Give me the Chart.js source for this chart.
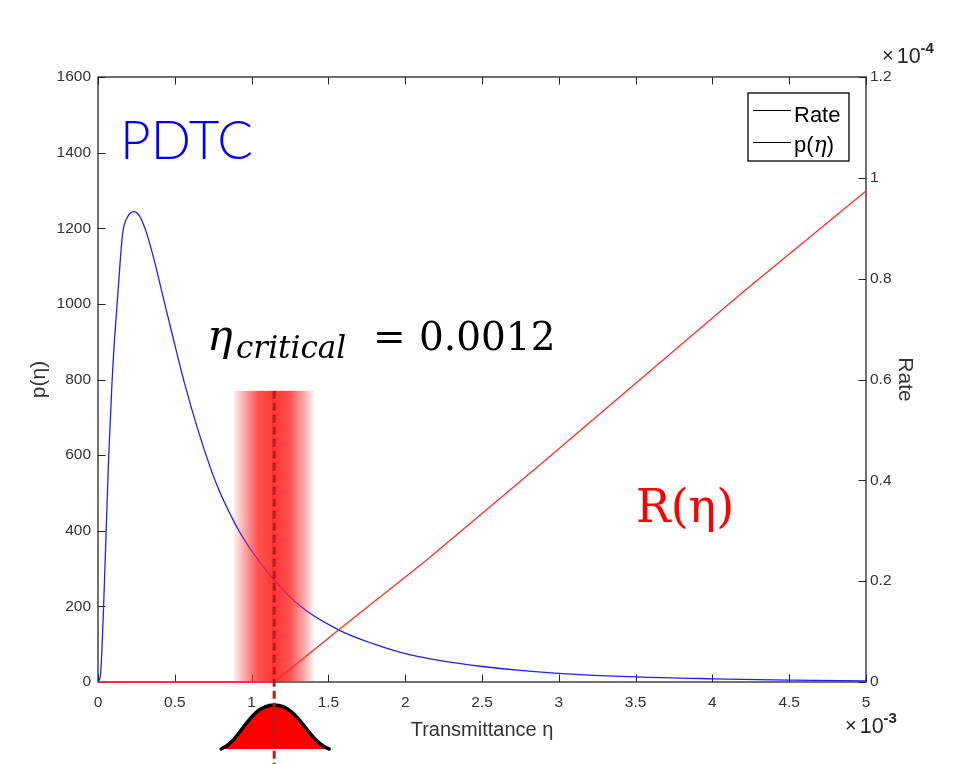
<!DOCTYPE html>
<html>
<head>
<meta charset="utf-8">
<script src="https://cdn.jsdelivr.net/npm/chart.js@4.4.0/dist/chart.umd.min.js"></script>
<style>
html,body{margin:0;padding:0;background:#ffffff;}
#wrap{width:975px;height:764px;position:relative;}
</style>
</head>
<body>
<div id="wrap"><canvas id="c" width="975" height="764"></canvas></div>
<script>
// ---- data ----
const etaP = [0, 0.015e-3, 0.025e-3, 0.036e-3, 0.045e-3, 0.054e-3, 0.069e-3, 0.091e-3, 0.11e-3, 0.13e-3,
  0.16e-3, 0.19e-3, 0.232e-3, 0.27e-3, 0.31e-3, 0.36e-3, 0.42e-3, 0.48e-3, 0.56e-3, 0.66e-3,
  0.77e-3, 0.9e-3, 1.0e-3, 1.143e-3, 1.316e-3, 1.566e-3, 1.8e-3, 2.0e-3, 2.25e-3, 2.5e-3,
  2.75e-3, 3.0e-3, 3.5e-3, 4.0e-3, 4.5e-3, 5.0e-3];
const pVals = [0, 15, 80, 195, 300, 410, 590, 790, 920, 1030,
  1185, 1228, 1244, 1233, 1195, 1125, 1025, 925, 795, 655,
  525, 413, 347, 272, 201, 138, 100, 75, 55, 41,
  31, 23, 13.5, 8.5, 5, 3];
const etaR = [0, 1.147e-3, 1.566e-3, 2.14e-3, 2.878e-3, 4.178e-3, 5.0e-3];
const rateVals = [0, 0, 0.103e-4, 0.242e-4, 0.431e-4, 0.768e-4, 0.974e-4];

const xTickValues = [0, 0.5e-3, 1e-3, 1.5e-3, 2e-3, 2.5e-3, 3e-3, 3.5e-3, 4e-3, 4.5e-3, 5e-3];
const xTickLabels = ['0', '0.5', '1', '1.5', '2', '2.5', '3', '3.5', '4', '4.5', '5'];
const yTickValues = [0, 200, 400, 600, 800, 1000, 1200, 1400, 1600];
const yTickLabels = ['0', '200', '400', '600', '800', '1000', '1200', '1400', '1600'];
const y1TickValues = [0, 0.2e-4, 0.4e-4, 0.6e-4, 0.8e-4, 1.0e-4, 1.2e-4];
const y1TickLabels = ['0', '0.2', '0.4', '0.6', '0.8', '1', '1.2'];

const etaCritical = 1.147e-3;
const bandLo = 0.88e-3, bandHi = 1.414e-3, bandTopP = 770;

const AX = '#262626';
const TICK = '#333333';
const SANS = "'Liberation Sans', Arial, Helvetica, sans-serif";
const SERIF = "'DejaVu Serif', 'Liberation Serif', serif";

function setTicks(values) {
  return function (scale) { scale.ticks = values.map(v => ({ value: v })); };
}

const framePlugin = {
  id: 'frame',
  beforeDatasetsDraw(chart) {
    const { ctx, chartArea: a, scales } = chart;
    ctx.save();
    ctx.strokeStyle = AX;
    ctx.lineWidth = 1;
    ctx.beginPath();
    const tl = 7.5;
    scales.x.ticks.forEach(t => {
      const px = Math.round(scales.x.getPixelForValue(t.value)) + 0.5;
      ctx.moveTo(px, a.bottom); ctx.lineTo(px, a.bottom - tl);
      ctx.moveTo(px, a.top); ctx.lineTo(px, a.top + tl);
    });
    scales.y.ticks.forEach(t => {
      const py = Math.round(scales.y.getPixelForValue(t.value)) + 0.5;
      ctx.moveTo(a.left, py); ctx.lineTo(a.left + tl, py);
    });
    scales.y1.ticks.forEach(t => {
      const py = Math.round(scales.y1.getPixelForValue(t.value)) + 0.5;
      ctx.moveTo(a.right, py); ctx.lineTo(a.right - tl, py);
    });
    ctx.stroke();
    ctx.lineWidth = 1.3;
    ctx.strokeRect(a.left, a.top, a.right - a.left, a.bottom - a.top);
    ctx.restore();
  }
};

const annotPlugin = {
  id: 'annot',
  afterDatasetsDraw(chart) {
    const { ctx, chartArea: a, scales } = chart;
    const xs = scales.x, ys = scales.y;
    ctx.save();
    // shaded band
    const x0 = xs.getPixelForValue(bandLo), x1 = xs.getPixelForValue(bandHi);
    const yT = ys.getPixelForValue(bandTopP);
    const g = ctx.createLinearGradient(x0, 0, x1, 0);
    g.addColorStop(0, 'rgba(255,60,60,0.06)');
    g.addColorStop(0.12, 'rgba(255,50,50,0.38)');
    g.addColorStop(0.3, 'rgba(255,40,40,0.8)');
    g.addColorStop(0.5, 'rgba(255,25,25,0.88)');
    g.addColorStop(0.7, 'rgba(255,40,40,0.8)');
    g.addColorStop(0.88, 'rgba(255,50,50,0.38)');
    g.addColorStop(1, 'rgba(255,60,60,0.0)');
    ctx.fillStyle = g;
    ctx.fillRect(x0, yT, x1 - x0, a.bottom - yT);

    // gaussian bump below the axis
    const cx = xs.getPixelForValue(etaCritical);
    const base = a.bottom + 67, top = a.bottom + 23;
    const path = new Path2D();
    path.moveTo(cx - 53, base);
    path.bezierCurveTo(cx - 33, base - 8, cx - 25, top, cx, top);
    path.bezierCurveTo(cx + 25, top, cx + 33, base - 8, cx + 55, base);
    const fillP = new Path2D(path);
    fillP.closePath();
    ctx.fillStyle = '#ff0000';
    ctx.fill(fillP);
    ctx.strokeStyle = '#000000';
    ctx.lineWidth = 3.5;
    ctx.lineCap = 'round';
    ctx.stroke(path);

    // dashed critical line
    ctx.beginPath();
    ctx.setLineDash([8, 4]);
    ctx.strokeStyle = '#b51c1c';
    ctx.lineWidth = 3;
    ctx.lineCap = 'butt';
    ctx.moveTo(cx, yT);
    ctx.lineTo(cx, 764);
    ctx.stroke();
    ctx.setLineDash([]);

    // texts
    ctx.textBaseline = 'alphabetic';
    ctx.textAlign = 'left';
    ctx.fillStyle = '#0000ff';
    ctx.font = "300 53px Lato, 'Open Sans', sans-serif";
    ctx.fillText('PDTC', a.left + 22, a.top + 82);

    ctx.fillStyle = '#000000';
    ctx.font = "italic 43px " + SERIF;
    ctx.fillText('η', 207, 350);
    ctx.font = "italic 31px " + SERIF;
    ctx.fillText('critical', 236, 358);
    ctx.font = "39px " + SERIF;
    ctx.fillText('=', 373, 350);
    ctx.fillText('0.0012', 419, 350);

    ctx.fillStyle = '#ff0000';
    ctx.font = "46px " + SERIF;
    ctx.fillText('R(η)', 636, 522);

    // legend
    const lx1 = a.right - 17, lx0 = lx1 - 101, ly0 = a.top + 16, ly1 = ly0 + 68;
    ctx.fillStyle = '#ffffff';
    ctx.fillRect(lx0, ly0, lx1 - lx0, ly1 - ly0);
    ctx.strokeStyle = '#000000';
    ctx.lineWidth = 1.3;
    ctx.strokeRect(lx0, ly0, lx1 - lx0, ly1 - ly0);
    ctx.lineWidth = 1;
    ctx.beginPath();
    const s1 = Math.round(ly0 + 17) + 0.5, s2 = Math.round(ly0 + 49) + 0.5;
    ctx.moveTo(lx0 + 5, s1); ctx.lineTo(lx0 + 43, s1);
    ctx.moveTo(lx0 + 5, s2); ctx.lineTo(lx0 + 43, s2);
    ctx.stroke();
    ctx.fillStyle = '#000000';
    ctx.font = "22px " + SANS;
    ctx.fillText('Rate', lx0 + 46, ly0 + 28.5);
    ctx.fillText('p(', lx0 + 46, ly0 + 59);
    let w = ctx.measureText('p(').width;
    ctx.font = "italic 22px " + SERIF;
    ctx.fillText('η', lx0 + 46 + w, ly0 + 59);
    let w2 = ctx.measureText('η').width;
    ctx.font = "22px " + SANS;
    ctx.fillText(')', lx0 + 46 + w + w2, ly0 + 59);

    // exponents
    ctx.fillStyle = AX;
    function expo(x, y, exp) {
      ctx.font = "20px " + SANS;
      ctx.fillText('×', x, y - 1);
      const wx = ctx.measureText('×').width;
      ctx.font = "21.5px " + SANS;
      ctx.fillText('10', x + wx + 3, y);
      const w10 = ctx.measureText('10').width;
      ctx.font = "bold 15px " + SANS;
      ctx.fillText(exp, x + wx + 3 + w10, y - 10);
    }
    expo(a.right + 16, a.top - 14.5, '-4');
    expo(a.right - 21, a.bottom + 51, '-3');
    ctx.restore();
  }
};

const chart = new Chart(document.getElementById('c'), {
  type: 'line',
  data: {
    datasets: [
      {
        label: 'Rate',
        data: etaR.map((x, i) => ({ x: x, y: rateVals[i] })),
        yAxisID: 'y1',
        borderColor: '#ff2b2b',
        borderWidth: 1.3,
        pointRadius: 0,
        tension: 0,
        clip: 4
      },
      {
        label: 'p(η)',
        data: etaP.map((x, i) => ({ x: x, y: pVals[i] })),
        yAxisID: 'y',
        borderColor: '#1f1fff',
        borderWidth: 1.3,
        pointRadius: 0,
        cubicInterpolationMode: 'monotone',
        clip: 4
      }
    ]
  },
  options: {
    responsive: false,
    animation: false,
    events: [],
    layout: { padding: { top: 77, left: 0, right: 0, bottom: 0 } },
    plugins: { legend: { display: false }, tooltip: { enabled: false } },
    scales: {
      x: {
        type: 'linear', position: 'bottom', min: 0, max: 5e-3,
        afterBuildTicks: setTicks(xTickValues),
        afterFit(s) { s.height = 82; },
        grid: { display: false, drawTicks: false }, border: { display: false },
        ticks: {
          autoSkip: false, maxRotation: 0, padding: 11, color: TICK,
          font: { family: SANS, size: 15.5 },
          callback: (v, i) => xTickLabels[i]
        },
        title: {
          display: true, text: 'Transmittance η', color: TICK,
          font: { family: SANS, size: 20 }, padding: { top: 0, bottom: 22 }
        }
      },
      y: {
        type: 'linear', position: 'left', min: 0, max: 1600,
        afterBuildTicks: setTicks(yTickValues),
        afterFit(s) { s.width = 98; },
        grid: { display: false, drawTicks: false }, border: { display: false },
        ticks: {
          autoSkip: false, padding: 7, color: TICK,
          font: { family: SANS, size: 15.5 },
          callback: (v, i) => yTickLabels[i]
        },
        title: {
          display: true, text: 'p(η)', color: TICK,
          font: { family: SANS, size: 21 }, padding: { top: 27, bottom: 0 }
        }
      },
      y1: {
        type: 'linear', position: 'right', min: 0, max: 1.2e-4,
        afterBuildTicks: setTicks(y1TickValues),
        afterFit(s) { s.width = 109; },
        grid: { display: false, drawTicks: false }, border: { display: false },
        ticks: {
          autoSkip: false, padding: 4, color: TICK,
          font: { family: SANS, size: 15.5 },
          callback: (v, i) => y1TickLabels[i]
        },
        title: {
          display: true, text: 'Rate', color: TICK,
          font: { family: SANS, size: 21 }, padding: { top: 58, bottom: 0 }
        }
      }
    }
  },
  plugins: [framePlugin, annotPlugin]
});
</script>
</body>
</html>
